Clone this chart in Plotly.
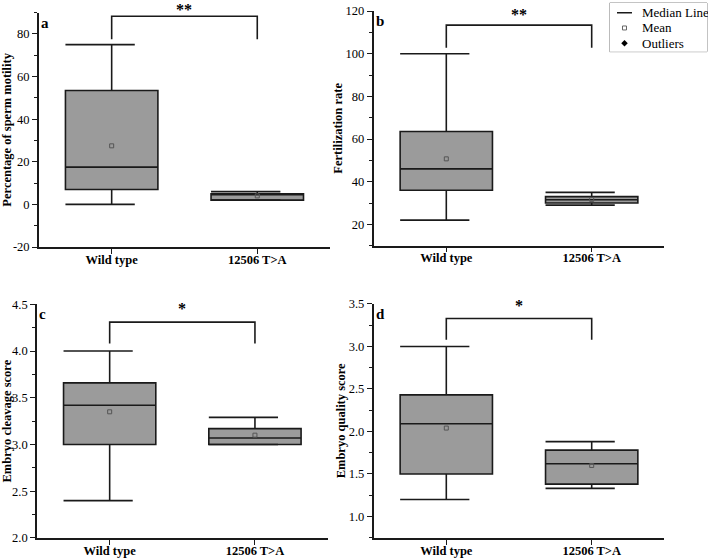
import plotly.graph_objects as go

# ---------------- data ----------------
groups = ["Wild type", "12506 T>A"]
panel_letters = ["a", "b", "c", "d"]
y_titles = ["Percentage of sperm motility", "Fertilization rate",
            "Embryo cleavage score", "Embryo quality score"]

q1_values = [[7.0, 2.0], [36.0, 30.0], [3.0, 3.0], [1.5, 1.38]]
median_values = [[17.5, 4.8], [46.0, 31.5], [3.42, 3.07], [2.09, 1.62]]
q3_values = [[53.5, 5.0], [63.5, 33.0], [3.66, 3.17], [2.43, 1.78]]
whisker_low = [[0.0, 2.0], [22.0, 29.0], [2.4, 3.0], [1.2, 1.33]]
whisker_high = [[75.0, 6.0], [100.0, 35.0], [4.0, 3.29], [3.0, 1.88]]
mean_values = [[27.5, 4.0], [50.7, 31.7], [3.35, 3.1], [2.04, 1.6]]

significance = ["**", "**", "*", "*"]
bracket_top = [88.3, 113.4, 4.31, 3.33]
bracket_end = [77.5, 102.8, 4.08, 3.08]
star_y = [91.6, 118.3, 4.46, 3.48]

y_ranges = [[-20, 90], [10, 120], [2.0, 4.5], [0.75, 3.5]]
y_tickvals = [[-20, 0, 20, 40, 60, 80],
              [20, 40, 60, 80, 100, 120],
              [2.0, 2.5, 3.0, 3.5, 4.0, 4.5],
              [1.0, 1.5, 2.0, 2.5, 3.0, 3.5]]
y_ticktext = [["-20", "0", "20", "40", "60", "80"],
              ["20", "40", "60", "80", "100", "120"],
              ["2.0", "2.5", "3.0", "3.5", "4.0", "4.5"],
              ["1.0", "1.5", "2.0", "2.5", "3.0", "3.5"]]
y_minor_dtick = [10, 10, 0.25, 0.25]

legend_labels = ["Median Line", "Mean", "Outliers"]

# ---------------- styling ----------------
FONT = "Liberation Serif, Times New Roman, serif"
BOX_FILL = "#9b9b9b"
LINE = "#1a1a1a"
BOX_W = 0.635
CAP_FRAC = 0.75

domains_x = [[0.0549, 0.4662], [0.5277, 0.9384], [0.0523, 0.4627], [0.5277, 0.9384]]
domains_y = [[0.5581, 0.9773], [0.5605, 0.9803], [0.0376, 0.4556], [0.0381, 0.4562]]

fig = go.Figure()
xpos = list(range(len(groups)))

for p in range(4):
    xa = "x" if p == 0 else f"x{p+1}"
    ya = "y" if p == 0 else f"y{p+1}"
    for g in range(len(groups)):
        fig.add_trace(go.Box(
            x=[xpos[g]], q1=[q1_values[p][g]], median=[median_values[p][g]],
            q3=[q3_values[p][g]], lowerfence=[whisker_low[p][g]],
            upperfence=[whisker_high[p][g]],
            width=BOX_W, whiskerwidth=0, fillcolor=BOX_FILL,
            line=dict(color=LINE, width=1.6), boxpoints=False,
            showlegend=False, xaxis=xa, yaxis=ya, hoverinfo="skip"))
        # offset whisker caps (start at the box's left edge)
        x0 = xpos[g] - BOX_W / 2
        x1 = x0 + BOX_W * CAP_FRAC
        for yv in (whisker_low[p][g], whisker_high[p][g]):
            fig.add_trace(go.Scatter(
                x=[x0, x1], y=[yv, yv], mode="lines",
                line=dict(color=LINE, width=1.6), showlegend=False,
                xaxis=xa, yaxis=ya, hoverinfo="skip"))
    # means
    fig.add_trace(go.Scatter(
        x=xpos, y=mean_values[p], mode="markers",
        marker=dict(symbol="square-open", size=4, color="#555555",
                    line=dict(width=1)),
        showlegend=False, xaxis=xa, yaxis=ya, hoverinfo="skip"))
    # significance bracket
    fig.add_trace(go.Scatter(
        x=[xpos[0], xpos[0], xpos[1], xpos[1]],
        y=[bracket_end[p], bracket_top[p], bracket_top[p], bracket_end[p]],
        mode="lines", line=dict(color=LINE, width=1.6),
        showlegend=False, xaxis=xa, yaxis=ya, hoverinfo="skip",
        cliponaxis=False))
    r0, r1 = y_ranges[p]
    fig.add_annotation(
        x=(xpos[0] + xpos[1]) / 2, xref=xa,
        y=(star_y[p] - r0) / (r1 - r0), yref=f"{ya} domain",
        text=f"<b>{significance[p]}</b>", showarrow=False,
        font=dict(family=FONT, size=16, color="black"), yanchor="middle")
    # panel letter
    fig.add_annotation(
        x=0.0, y=1.0, xref=f"{xa} domain", yref=f"{ya} domain",
        text=f"<b>{panel_letters[p]}</b>", showarrow=False,
        xanchor="left", yanchor="top",
        font=dict(family=FONT, size=15, color="black"))

    axis_common = dict(showline=True, linecolor=LINE, linewidth=1.6,
                       ticks="outside", tickcolor=LINE, tickwidth=1.3,
                       ticklen=5, showgrid=False, zeroline=False,
                       automargin=False)
    xkey = "xaxis" if p == 0 else f"xaxis{p+1}"
    ykey = "yaxis" if p == 0 else f"yaxis{p+1}"
    fig.layout[xkey] = dict(
        axis_common, domain=domains_x[p], range=[-0.5, 1.5],
        tickmode="array", tickvals=xpos,
        ticktext=[f"<b>{t}</b>" for t in groups],
        tickfont=dict(family=FONT, size=12.5, color="black"),
        ticklabelstandoff=-5,
        anchor=ya)
    fig.layout[ykey] = dict(
        axis_common, domain=domains_y[p], range=y_ranges[p],
        tickmode="array", tickvals=y_tickvals[p], ticktext=y_ticktext[p],
        tickfont=dict(family=FONT, size=12.5, color="black"),
        minor=dict(ticks="outside", ticklen=3, tickcolor=LINE,
                   tickwidth=1, tickmode="linear", tick0=0,
                   dtick=y_minor_dtick[p]),
        title=dict(text=f"<b>{y_titles[p]}</b>", standoff=0,
                   font=dict(family=FONT, size=12.5, color="black")),
        anchor=xa)

# ---------------- hand-drawn legend box (top right) ----------------
LEG_X = [609.7 / 708, 707 / 708]
LEG_Y = [1 - 51.7 / 559, 1 - 3 / 559]
fig.layout["xaxis5"] = dict(domain=LEG_X, range=[0, 1], visible=False,
                            fixedrange=True, anchor="y5")
fig.layout["yaxis5"] = dict(domain=LEG_Y, range=[0, 1], visible=False,
                            fixedrange=True, anchor="x5")
fig.add_shape(type="rect", xref="paper", yref="paper",
              x0=LEG_X[0], x1=LEG_X[1], y0=LEG_Y[0], y1=LEG_Y[1],
              line=dict(color="#888888", width=1), fillcolor="white",
              layer="below")
row_y = [0.80, 0.487, 0.172]
fig.add_trace(go.Scatter(x=[0.075, 0.229], y=[row_y[0], row_y[0]],
                         mode="lines", line=dict(color=LINE, width=1.6),
                         xaxis="x5", yaxis="y5", showlegend=False,
                         hoverinfo="skip"))
fig.add_trace(go.Scatter(x=[0.152], y=[row_y[1]], mode="markers",
                         marker=dict(symbol="square-open", size=4,
                                     color="#666666", line=dict(width=1)),
                         xaxis="x5", yaxis="y5", showlegend=False,
                         hoverinfo="skip"))
fig.add_trace(go.Scatter(x=[0.152], y=[row_y[2]], mode="markers",
                         marker=dict(symbol="diamond", size=5, color="black"),
                         xaxis="x5", yaxis="y5", showlegend=False,
                         hoverinfo="skip"))
for lbl, ry in zip(legend_labels, row_y):
    fig.add_annotation(x=0.31, y=ry, xref="x5 domain", yref="y5 domain",
                       text=lbl, showarrow=False, xanchor="left",
                       yanchor="middle",
                       font=dict(family=FONT, size=13, color="black"))

fig.update_layout(
    width=708, height=559,
    margin=dict(l=0, r=0, t=0, b=0),
    paper_bgcolor="white", plot_bgcolor="white",
    showlegend=False,
    font=dict(family=FONT, color="black"),
)

fig.write_html("out.html", config={"displayModeBar": False},
               post_script="document.body.style.margin='0px';")
